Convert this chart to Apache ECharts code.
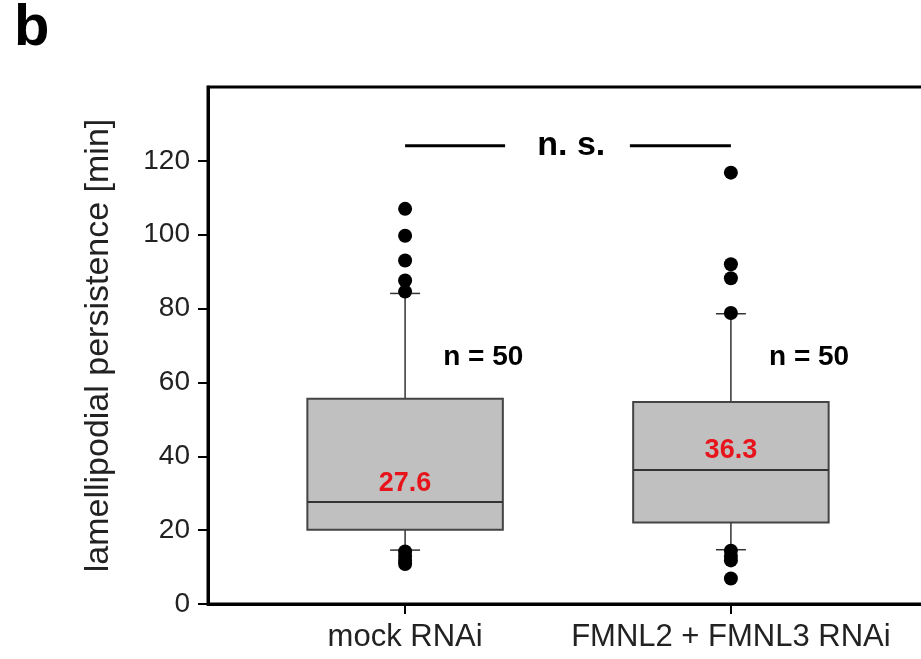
<!DOCTYPE html>
<html>
<head>
<meta charset="utf-8">
<script src="https://cdn.jsdelivr.net/npm/echarts@6/dist/echarts.min.js"></script>
<style>
  html, body { margin: 0; padding: 0; background: #fff; }
  #main { width: 921px; height: 659px; }
</style>
</head>
<body>
<div id="main"></div>
<script>
  var categories = ['mock RNAi', 'FMNL2 + FMNL3 RNAi']
  // [position, lower whisker, Q1, median, Q3, upper whisker]
  var boxData = [
    [0, 14.6, 20.1, 27.6, 55.6, 84.1],
    [1, 14.7, 22.1, 36.3, 54.7, 78.6]
  ]
  var medianLabels = ['27.6', '36.3']
  var countLabels = ['n = 50', 'n = 50']
  var countY = 66.8
  var outliers = [
    [0, 107.0], [0, 99.7], [0, 93.0], [0, 87.6], [0, 84.6],
    [0, 14.2], [0, 13.0], [0, 11.8], [0, 10.8],
    [1, 116.8], [1, 92.0], [1, 88.2], [1, 78.8],
    [1, 14.4], [1, 13.0], [1, 11.8], [1, 6.9]
  ]
  var sigY = 124.1
  var sigLines = [[0, 0.307], [0.69, 1.0]]
  var sigText = 'n. s.'
  var yTicks = [0, 20, 40, 60, 80, 100, 120]

  var font = '"Liberation Sans", Arial, sans-serif'

  function renderBox (params, api) {
    var x = api.value(0)
    var lo = api.coord([x, api.value(1)])
    var q1 = api.coord([x, api.value(2)])
    var med = api.coord([x, api.value(3)])
    var q3 = api.coord([x, api.value(4)])
    var hi = api.coord([x, api.value(5)])
    var nPos = api.coord([x + 0.24, countY])
    var half = api.size([0.6, 0])[0] / 2
    var cap = api.size([0.092, 0])[0] / 2
    var cx = lo[0]
    var thin = { stroke: '#333', lineWidth: 1.5 }
    return {
      type: 'group',
      children: [
        { type: 'line', shape: { x1: cx, y1: q3[1], x2: cx, y2: hi[1] }, style: thin },
        { type: 'line', shape: { x1: cx, y1: q1[1], x2: cx, y2: lo[1] }, style: thin },
        { type: 'line', shape: { x1: cx - cap, y1: hi[1], x2: cx + cap, y2: hi[1] }, style: thin },
        { type: 'line', shape: { x1: cx - cap, y1: lo[1], x2: cx + cap, y2: lo[1] }, style: thin },
        {
          type: 'rect',
          shape: { x: cx - half, y: q3[1], width: half * 2, height: q1[1] - q3[1] },
          style: { fill: '#c0c0c0', stroke: '#444', lineWidth: 2 }
        },
        { type: 'line', shape: { x1: cx - half, y1: med[1], x2: cx + half, y2: med[1] }, style: { stroke: '#333', lineWidth: 2 } },
        {
          type: 'text', x: cx, y: med[1] - 19,
          style: { text: medianLabels[params.dataIndex], fill: '#e8141c', font: 'bold 27px ' + font, align: 'center', verticalAlign: 'middle' }
        },
        {
          type: 'text', x: nPos[0], y: nPos[1],
          style: { text: countLabels[params.dataIndex], fill: '#000', font: 'bold 28px ' + font, align: 'center', verticalAlign: 'middle' }
        }
      ]
    }
  }

  function renderSig (params, api) {
    var seg = sigLines[params.dataIndex]
    var a = api.coord([seg[0], sigY])
    var b = api.coord([seg[1], sigY])
    var children = [
      { type: 'line', shape: { x1: a[0], y1: a[1], x2: b[0], y2: b[1] }, style: { stroke: '#000', lineWidth: 3 } }
    ]
    if (params.dataIndex === 0) {
      var mid = api.coord([0.51, sigY])
      children.push({
        type: 'text', x: mid[0], y: mid[1],
        style: { text: sigText, fill: '#000', font: 'bold 34px ' + font, align: 'center', verticalAlign: 'middle' }
      })
    }
    return { type: 'group', children: children }
  }

  var myChart = echarts.init(document.getElementById('main'))
  myChart.setOption({
    animation: false,
    backgroundColor: '#fff',
    graphic: [
      { type: 'text', left: 14, top: 0, style: { text: 'b', fill: '#000', font: 'bold 58px ' + font } }
    ],
    grid: {
      left: 208, top: 87, width: 720, height: 517,
      outerBoundsMode: 'none',
      containLabel: false,
      show: true, borderColor: '#000', borderWidth: 3
    },
    xAxis: {
      type: 'value',
      min: -0.605,
      max: 1.605,
      axisLine: { lineStyle: { color: '#000', width: 3 } },
      axisTick: { customValues: [0, 1], length: 10, lineStyle: { color: '#000', width: 2 } },
      axisLabel: {
        customValues: [0, 1],
        formatter: function (v) { return categories[Math.round(v)] },
        fontSize: 31, color: '#222', margin: 18, fontFamily: font
      },
      splitLine: { show: false }
    },
    yAxis: {
      type: 'value',
      min: 0,
      max: 140,
      name: 'lamellipodial persistence [min]',
      nameLocation: 'middle',
      nameGap: 92,
      nameTextStyle: { fontSize: 34, color: '#222', fontFamily: font },
      axisLine: { onZero: false, lineStyle: { color: '#000', width: 3 } },
      axisTick: { customValues: yTicks, length: 10, lineStyle: { color: '#000', width: 2 } },
      axisLabel: { customValues: yTicks, fontSize: 28, color: '#222', margin: 18, fontFamily: font },
      splitLine: { show: false }
    },
    series: [
      {
        type: 'custom',
        renderItem: renderBox,
        data: boxData,
        encode: { x: 0, y: [1, 2, 3, 4, 5] },
        z: 2
      },
      {
        type: 'scatter',
        data: outliers,
        symbolSize: 14,
        itemStyle: { color: '#000', opacity: 1 },
        z: 5
      },
      {
        type: 'custom',
        renderItem: renderSig,
        data: sigLines,
        encode: { x: [0, 1] },
        z: 3
      }
    ]
  })
</script>
</body>
</html>
